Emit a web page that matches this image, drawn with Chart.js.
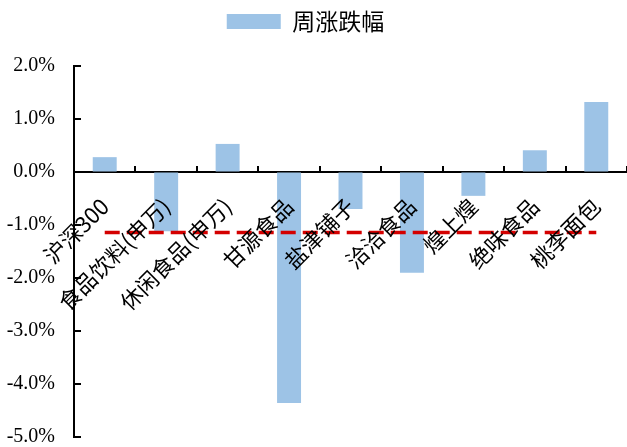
<!DOCTYPE html>
<html>
<head>
<meta charset="utf-8">
<script src="https://cdn.jsdelivr.net/npm/chart.js@4/dist/chart.umd.min.js"></script>
<style>
  html, body { margin: 0; padding: 0; background: #fff; }
  #wrap { width: 627px; height: 447px; position: relative; }
</style>
</head>
<body>
<div id="wrap"><canvas id="chart"></canvas></div>
<script>
// 数据
const categories = ['沪深300', '食品饮料(申万)', '休闲食品(申万)', '甘源食品', '盐津铺子', '洽洽食品', '煌上煌', '绝味食品', '桃李面包'];
const weeklyChange = [0.28, -1.12, 0.53, -4.36, -0.70, -1.90, -0.45, 0.41, 1.32];
const refLine = [-1.14, -1.14, -1.14, -1.14, -1.14, -1.14, -1.14, -1.14, -1.14];
const yTicks = [2, 1, 0, -1, -2, -3, -4, -5];

const serif = '"Liberation Serif", "Times New Roman", serif';
const cjk = '"Noto Sans CJK SC", sans-serif';

// 坐标轴上的小刻度（朝内）
const innerTicks = {
  id: 'innerTicks',
  afterDatasetsDraw(chart) {
    const { ctx, scales: { x, y }, chartArea } = chart;
    const y0 = y.getPixelForValue(0);
    ctx.save();
    ctx.strokeStyle = '#000';
    ctx.lineWidth = 2;
    ctx.beginPath();
    for (let i = 0; i < categories.length; i++) {
      const px = Math.round((x.getPixelForValue(i) + x.getPixelForValue(i + 1)) / 2);
      ctx.moveTo(px, y0);
      ctx.lineTo(px, y0 - 6);
    }
    yTicks.forEach(v => {
      const py = Math.round(y.getPixelForValue(v));
      ctx.moveTo(chartArea.left, py);
      ctx.lineTo(chartArea.left + 7, py);
    });
    ctx.stroke();
    ctx.restore();
  }
};

// 图例下方留白，并略向左移
const legendGap = {
  id: 'legendGap',
  beforeInit(chart) {
    const lg = chart.legend;
    const fit = lg.fit;
    lg.fit = function () {
      fit.bind(lg)();
      this.height += 23;
    };
    const draw = lg.draw;
    lg.draw = function () {
      const c = chart.ctx;
      c.save();
      c.translate(-8, 0);
      draw.bind(lg)();
      c.restore();
    };
  }
};

new Chart(document.getElementById('chart'), {
  data: {
    labels: categories,
    datasets: [
      {
        type: 'bar',
        label: '周涨跌幅',
        data: weeklyChange,
        backgroundColor: '#9dc3e6',
        borderWidth: 0,
        categoryPercentage: 1,
        barPercentage: 0.39,
        order: 2
      },
      {
        type: 'line',
        label: '参考线',
        data: refLine,
        borderColor: '#d40000',
        borderWidth: 3.5,
        borderDash: [15, 7],
        pointRadius: 0,
        fill: false,
        order: 1
      }
    ]
  },
  options: {
    responsive: true,
    maintainAspectRatio: false,
    animation: false,
    layout: { padding: 0 },
    plugins: {
      legend: {
        position: 'top',
        labels: {
          boxWidth: 54,
          boxHeight: 15,
          padding: 10,
          color: '#000',
          font: { family: cjk, size: 23 },
          filter: item => item.datasetIndex === 0
        }
      },
      tooltip: { enabled: false }
    },
    scales: {
      x: {
        position: { y: 0 },
        offset: true,
        afterFit: s => { s.height = 0; s.paddingLeft = 0; s.paddingRight = 0; },
        grid: { display: true, drawOnChartArea: false, drawTicks: false, offset: true },
        border: { display: true, color: '#000', width: 2 },
        ticks: {
          z: 1,
          autoSkip: false,
          minRotation: 45,
          maxRotation: 45,
          padding: 21,
          color: '#000',
          font: { family: cjk, size: 22 }
        }
      },
      y: {
        min: -5,
        max: 2,
        afterFit: s => { s.width = 74; s.paddingTop = 0; s.paddingBottom = 10; },
        afterBuildTicks: s => { s.ticks = yTicks.map(v => ({ value: v })); },
        grid: { display: true, drawOnChartArea: false, drawTicks: false },
        border: { display: true, color: '#000', width: 2 },
        ticks: {
          padding: 19,
          color: '#000',
          font: { family: serif, size: 20 },
          callback: v => v.toFixed(1) + '%'
        }
      }
    }
  },
  plugins: [innerTicks, legendGap]
});
</script>
</body>
</html>
